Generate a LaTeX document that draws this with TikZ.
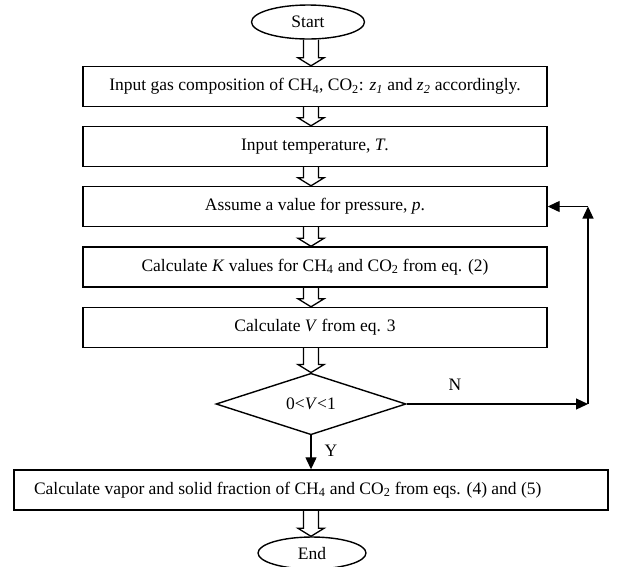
\documentclass[tikz,border=0pt]{standalone}
\usepackage{fontspec}
\setmainfont{Liberation Serif}
\usetikzlibrary{arrows.meta,shapes.geometric,calc}
\newcommand{\harrow}[2]{%
  \draw[hollow] let \p1=(#1.south), \p2=(#2.north) in
    (303.5pt,\y1) -- (303.5pt,\y2+8pt) -- (298pt,\y2+8pt) -- (311pt,\y2)
    -- (324pt,\y2+8pt) -- (318.5pt,\y2+8pt) -- (318.5pt,\y1);}
\begin{document}
\begin{tikzpicture}[x=1pt,y=-1pt,line width=1.4pt,
  txt/.style={font=\fontsize{17.5}{21}\selectfont},
  box/.style={draw,txt,minimum width=464pt,minimum height=40pt,inner sep=0pt},
  term/.style={draw,txt,ellipse,inner sep=0pt},
  hollow/.style={line width=1.3pt,line join=miter},
  arr/.style={line width=1.2pt,-{Triangle[length=12pt,width=11pt]}}]
\useasboundingbox (0,0) rectangle (620,566);
\node[term,minimum width=113pt,minimum height=34pt] (start) at (308,22) {Start};
\node[box] (b1) at (315,86.5) {Input gas composition of CH\textsubscript{4}, CO\textsubscript{2}: \textit{z}\textsubscript{\textit{1}} and \textit{z}\textsubscript{\textit{2}} accordingly.};
\node[box] (b2) at (315,146.5) {Input temperature, \textit{T}.};
\node[box] (b3) at (315,206.5) {Assume a value for pressure, \textit{p}.};
\node[box] (b4) at (315,267) {Calculate \textit{K} values for CH\textsubscript{4} and CO\textsubscript{2} from eq. (2)};
\node[box] (b5) at (315,327.5) {Calculate \textit{V} from eq. 3};
\node[draw,txt,diamond,minimum width=190pt,minimum height=52pt,inner sep=0pt] (dia) at (311,404) {0<\textit{V}<1};
\node[draw,minimum width=594pt,minimum height=40pt,inner sep=0pt] (b6) at (311,490) {};
\node[txt,anchor=west] (b6t) at (30,490) {Calculate vapor and solid fraction of CH\textsubscript{4} and CO\textsubscript{2} from eqs. (4) and (5)};
\node[term,minimum width=108pt,minimum height=32pt] (end) at (312,553) {End};
\harrow{start}{b1}
\harrow{b1}{b2}
\harrow{b2}{b3}
\harrow{b3}{b4}
\harrow{b4}{b5}
\harrow{b5}{dia}
\harrow{b6}{end}
\coordinate (cN) at (588,404);
\coordinate (cT) at (588,206.5);
\draw[arr] (dia.east) -- (cN);
\draw[arr] (cN) -- (cT);
\draw[arr] (cT) -- (b3.east);
\draw[arr] (dia.south) -- (b6.north);
\node[txt] (lN) at (455,385) {N};
\node[txt] (lY) at (331,451) {Y};
\end{tikzpicture}
\end{document}
